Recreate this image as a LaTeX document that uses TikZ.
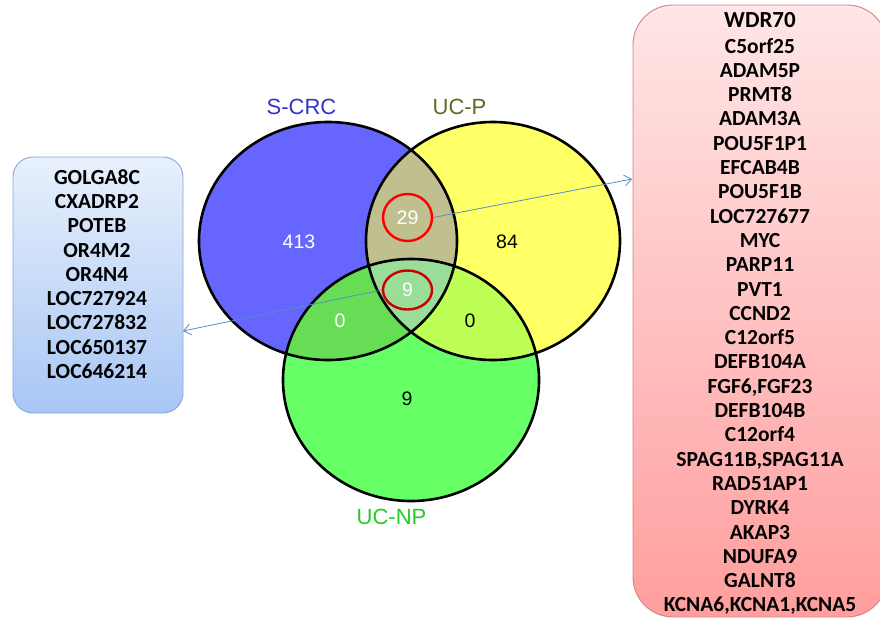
\documentclass[tikz,border=0pt]{standalone}
\usepackage{fontspec}
\setmainfont{Carlito}
\newfontfamily\vennfont{Liberation Sans}
\usepackage{tikz}
\usetikzlibrary{shapes,arrows,arrows.meta,positioning}
\definecolor{crcblue}{HTML}{6666FF}
\definecolor{ucpyellow}{HTML}{FFFF66}
\definecolor{ucnpgreen}{HTML}{66FF66}
\definecolor{crcucp}{HTML}{C0BF90}
\definecolor{crcucnp}{HTML}{66DD55}
\definecolor{ucpucnp}{HTML}{BDFF55}
\definecolor{allthree}{HTML}{99DD99}
\definecolor{linkblue}{HTML}{5B8BC8}
\tikzset{
	setlabel/.style={font=\vennfont\fontsize{22}{26}\selectfont},
	count/.style={font=\vennfont\fontsize{19.5}{23}\selectfont},
	ring/.style={ellipse,draw,line width=2.4pt,inner sep=0pt,font=\vennfont\fontsize{19.5}{23}\selectfont,text=white},
	genebox/.style={rectangle,draw,line width=0.9pt},
	genelist/.style={align=center,font=\fontsize{21.5}{24.3}\selectfont\bfseries},
	link/.style={linkblue,line width=0.8pt,-{Straight Barb[length=7pt,width=11pt]}}
}
\begin{document}
\begin{tikzpicture}[x=1pt,y=-1pt]
	\useasboundingbox (0,0) rectangle (880,622);
	\def\crcpath{(328,241) ellipse [x radius=129,y radius=119]}
	\def\ucppath{(493,241) ellipse [x radius=127,y radius=119]}
	\def\ucnppath{(411,380) ellipse [x radius=128,y radius=121]}
	\fill[crcblue] \crcpath;
	\fill[ucpyellow] \ucppath;
	\fill[ucnpgreen] \ucnppath;
	\begin{scope}
		\clip \crcpath;
		\fill[crcucp] \ucppath;
		\fill[crcucnp] \ucnppath;
		\clip \ucppath;
		\fill[allthree] \ucnppath;
	\end{scope}
	\begin{scope}
		\clip \ucppath;
		\clip \ucnppath;
		\fill[ucpucnp] (250,250) rectangle (620,510);
		\clip \crcpath;
		\fill[allthree] (250,250) rectangle (620,510);
	\end{scope}
	\draw[line width=2.6pt] \crcpath \ucppath \ucnppath;
	\node[setlabel,text={rgb,255:red,51;green,51;blue,204}] (crc) at (301.5,106.5) {S-CRC};
	\node[setlabel,text={rgb,255:red,102;green,102;blue,34}] (ucp) at (459.5,106.5) {UC-P};
	\node[setlabel,text={rgb,255:red,34;green,204;blue,34}] (ucnp) at (391.5,516.5) {UC-NP};
	\node[count,text=white] (n413) at (299,242) {413};
	\node[count] (n84) at (507,242) {84};
	\node[count,text=white] (n0a) at (340,321) {0};
	\node[count] (n0b) at (470,321) {0};
	\node[count] (n9b) at (407,399) {9};
	\node[ring,draw={rgb,255:red,255;green,0;blue,0},minimum width=49pt,minimum height=47pt] (r29) at (407.5,217.5) {29};
	\node[ring,draw={rgb,255:red,204;green,0;blue,0},minimum width=49pt,minimum height=39pt] (r9) at (407.5,290) {9};
	\node[genebox,draw={rgb,255:red,130;green,168;blue,222},rounded corners=20pt,top color={rgb,255:red,232;green,240;blue,252},bottom color={rgb,255:red,168;green,198;blue,245},minimum width=170pt,minimum height=256pt] (lbox) at (98,285) {};
	\node[genebox,draw={rgb,255:red,214;green,130;blue,130},rounded corners=40pt,top color={rgb,255:red,255;green,230;blue,230},bottom color={rgb,255:red,255;green,158;blue,158},minimum width=254pt,minimum height=612pt] (rbox) at (760,311) {};
	\node[genelist] (lgenes) at (97,274) {GOLGA8C\\CXADRP2\\POTEB\\OR4M2\\OR4N4\\LOC727924\\LOC727832\\LOC650137\\LOC646214};
	\node[font=\fontsize{23}{26}\selectfont\bfseries] (wdr) at (760,20) {WDR70};
	\node[genelist] (rgenes) at (760,326.5) {C5orf25\\ADAM5P\\PRMT8\\ADAM3A\\POU5F1P1\\EFCAB4B\\POU5F1B\\LOC727677\\MYC\\PARP11\\PVT1\\CCND2\\C12orf5\\DEFB104A\\FGF6,FGF23\\DEFB104B\\C12orf4\\SPAG11B,SPAG11A\\RAD51AP1\\DYRK4\\AKAP3\\NDUFA9\\GALNT8\\KCNA6,KCNA1,KCNA5};
	\coordinate (tipr) at (632,179);
	\coordinate (tipl) at (183,331);
	\draw[link] (r29.east) -- (tipr);
	\draw[link] (r9.west) -- (tipl);
\end{tikzpicture}
\end{document}
